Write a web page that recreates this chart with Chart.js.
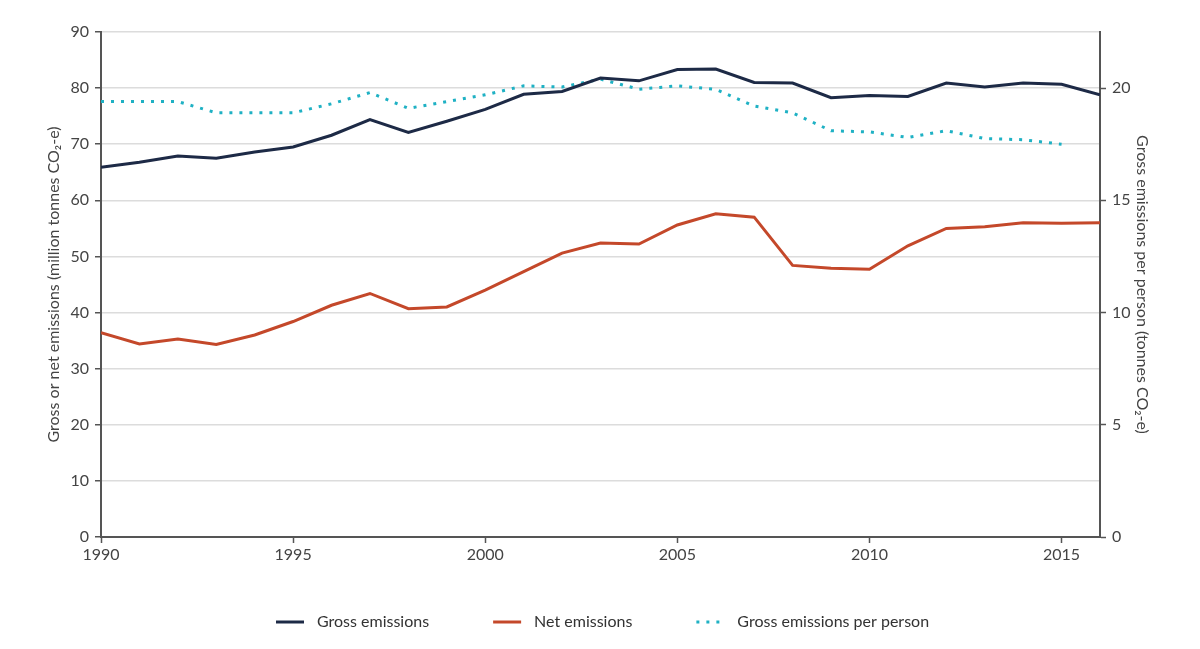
<!DOCTYPE html>
<html>
<head>
<meta charset="utf-8">
<script src="https://cdn.jsdelivr.net/npm/chart.js@4/dist/chart.umd.min.js"></script>
<style>
  html, body { margin: 0; padding: 0; background: #fff; }
  #wrap { width: 1200px; height: 649px; }
</style>
</head>
<body>
<div id="wrap"><canvas id="chart"></canvas></div>
<script>
const years = [1990, 1991, 1992, 1993, 1994, 1995, 1996, 1997, 1998, 1999, 2000, 2001, 2002,
  2003, 2004, 2005, 2006, 2007, 2008, 2009, 2010, 2011, 2012, 2013, 2014, 2015, 2016];
const grossEmissions = [65.9, 66.8, 67.9, 67.5, 68.6, 69.5, 71.6, 74.4, 72.1, 74.1, 76.2, 78.9, 79.4,
  81.8, 81.3, 83.3, 83.4, 81.0, 80.9, 78.3, 78.7, 78.5, 80.9, 80.2, 80.9, 80.7, 78.8];
const netEmissions = [36.4, 34.4, 35.3, 34.3, 36.0, 38.4, 41.3, 43.4, 40.7, 41.0, 44.0, 47.3, 50.6,
  52.4, 52.2, 55.6, 57.6, 57.0, 48.4, 47.9, 47.7, 51.9, 55.0, 55.3, 56.0, 55.9, 56.0];
const perPerson = [19.4, 19.4, 19.4, 18.9, 18.9, 18.9, 19.3, 19.8, 19.1, 19.4, 19.7, 20.1, 20.05,
  20.4, 19.95, 20.1, 19.95, 19.2, 18.9, 18.1, 18.05, 17.8, 18.1, 17.75, 17.7, 17.5];
const xTicks = [1990, 1995, 2000, 2005, 2010, 2015];
const leftTicks = [0, 10, 20, 30, 40, 50, 60, 70, 80, 90];
const rightTicks = [0, 5, 10, 15, 20];

const toPoints = vals => vals.map((v, i) => ({ x: years[i], y: v }));
const axisColor = '#555';
const textColor = '#444';
const font = { family: 'Lato', size: 16 };

// legend swatch: 48px box, line drawn in its right part so there is room before it
function swatch(color, dash) {
  const c = document.createElement('canvas');
  c.width = 48;
  c.height = 4;
  const g = c.getContext('2d');
  g.strokeStyle = color;
  g.lineWidth = 3;
  g.setLineDash(dash);
  g.beginPath();
  g.moveTo(15, 2);
  g.lineTo(43, 2);
  g.stroke();
  return c;
}

const datasets = [
  {
    label: 'Gross emissions',
    data: toPoints(grossEmissions),
    borderColor: '#1d2a46',
    backgroundColor: '#1d2a46',
    borderWidth: 3,
    borderDash: [],
    yAxisID: 'y'
  },
  {
    label: 'Net emissions',
    data: toPoints(netEmissions),
    borderColor: '#c4482a',
    backgroundColor: '#c4482a',
    borderWidth: 3,
    borderDash: [],
    yAxisID: 'y'
  },
  {
    label: 'Gross emissions per person',
    data: toPoints(perPerson),
    borderColor: '#1fb1c4',
    backgroundColor: '#1fb1c4',
    borderWidth: 3,
    borderDash: [3, 7],
    yAxisID: 'y2'
  }
];
const swatches = datasets.map(d => swatch(d.borderColor, d.borderDash));

new Chart(document.getElementById('chart'), {
  type: 'line',
  data: { datasets },
  options: {
    responsive: true,
    maintainAspectRatio: false,
    animation: false,
    elements: { point: { radius: 0 }, line: { tension: 0 } },
    layout: { padding: { left: 38, right: 48, top: 32, bottom: 9 } },
    plugins: {
      tooltip: { enabled: false },
      legend: {
        position: 'bottom',
        labels: {
          usePointStyle: true,
          pointStyleWidth: 48,
          padding: 49,
          color: '#333',
          font,
          generateLabels: chart => Chart.defaults.plugins.legend.labels.generateLabels(chart)
            .map((item, i) => ({ ...item, pointStyle: swatches[i] }))
        }
      }
    },
    scales: {
      x: {
        type: 'linear',
        min: 1990,
        max: 2016,
        afterBuildTicks: s => { s.ticks = xTicks.map(v => ({ value: v })); },
        afterFit: s => { s.height = 28; },
        ticks: { color: textColor, font, padding: 2, maxRotation: 0, autoSkip: false, callback: v => String(v) },
        grid: { drawOnChartArea: false, tickLength: 6, tickColor: axisColor, tickWidth: 1.5 },
        border: { color: axisColor, width: 2 }
      },
      y: {
        position: 'left',
        min: 0,
        max: 90,
        afterBuildTicks: s => { s.ticks = leftTicks.map(v => ({ value: v })); },
        afterFit: s => { s.width = 63; },
        ticks: { color: textColor, font, padding: 6 },
        grid: { color: '#dcdcdc', lineWidth: 1.5, tickLength: 6, tickColor: axisColor, tickWidth: 1.5 },
        border: { color: axisColor, width: 2 },
        title: {
          display: true,
          text: 'Gross or net emissions (million tonnes CO₂-e)',
          color: textColor,
          font,
          padding: { top: 6, bottom: 0 }
        }
      },
      y2: {
        position: 'right',
        min: 0,
        max: 22.5,
        afterBuildTicks: s => { s.ticks = rightTicks.map(v => ({ value: v })); },
        afterFit: s => { s.width = 52; },
        ticks: { color: textColor, font, padding: 6 },
        grid: { drawOnChartArea: false, tickLength: 6, tickColor: axisColor, tickWidth: 1.5 },
        border: { color: axisColor, width: 2 },
        title: {
          display: true,
          text: 'Gross emissions per person (tonnes CO₂-e)',
          color: textColor,
          font,
          padding: { top: 0, bottom: 0 }
        }
      }
    }
  }
});
</script>
</body>
</html>
